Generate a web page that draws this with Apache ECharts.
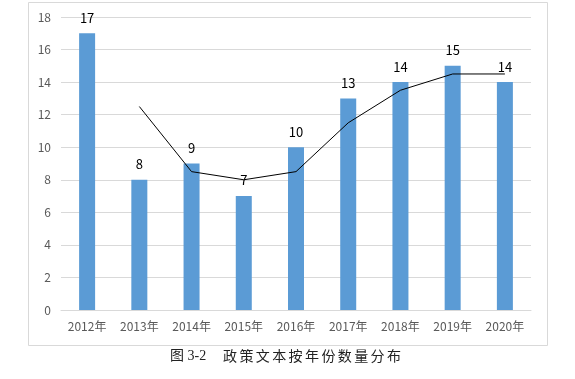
<!DOCTYPE html>
<html><head><meta charset="utf-8">
<script src="https://cdn.jsdelivr.net/npm/echarts@6/dist/echarts.min.js"></script>
<style>html,body{margin:0;padding:0;background:#fff}#c{width:575px;height:379px}</style>
</head><body><div id="c"></div>
<script>
const categories = ['2012年','2013年','2014年','2015年','2016年','2017年','2018年','2019年','2020年'];
const counts = [17, 8, 9, 7, 10, 13, 14, 15, 14];
const movingAvg = [null, 12.5, 8.5, 8, 8.5, 11.5, 13.5, 14.5, 14.5];
const captionLabel = '图 3-2';
const captionTitle = '政策文本按年份数量分布';

const captionGraphics = [
  {type:'text', left:170, top:349, style:{text:captionLabel, fontSize:14, fill:'#222', fontFamily:'Liberation Serif, Noto Sans CJK SC'}}
];
captionTitle.split('').forEach((ch, i) => {
  captionGraphics.push({type:'text', left:223 + i*16.4, top:349,
    style:{text:ch, fontSize:14, fill:'#222', fontFamily:'Noto Sans CJK SC'}});
});

const chart = echarts.init(document.getElementById('c'), null, {renderer:'canvas'});
chart.setOption({
  animation:false,
  backgroundColor:'#fff',
  grid:{left:61, right:44, top:17, bottom:69},
  xAxis:{type:'category', data:categories,
    axisLine:{lineStyle:{color:'#d9d9d9'}}, axisTick:{show:false},
    axisLabel:{color:'#595959', fontSize:12, margin:10, fontFamily:'Noto Sans CJK SC'}},
  yAxis:{type:'value', min:0, max:18, interval:2,
    axisLine:{show:false}, axisTick:{show:false},
    splitLine:{lineStyle:{color:'#d9d9d9'}},
    axisLabel:{color:'#595959', fontSize:12, margin:10, fontFamily:'Noto Sans CJK SC'}},
  series:[
    {type:'bar', data:counts, barWidth:16, itemStyle:{color:'#5b9bd5'},
     label:{show:true, position:'top', distance:9, color:'#000', fontSize:13, fontFamily:'Noto Sans CJK SC'}},
    {type:'line', data:movingAvg, showSymbol:false, symbol:'none',
     lineStyle:{color:'#000', width:1}, itemStyle:{color:'#000'}}
  ],
  graphic:[
    {type:'rect', shape:{x:28.5, y:2.5, width:519, height:343}, style:{fill:null, stroke:'#d9d9d9', lineWidth:1}, silent:true, z:-1}
  ].concat(captionGraphics)
});
</script></body></html>
